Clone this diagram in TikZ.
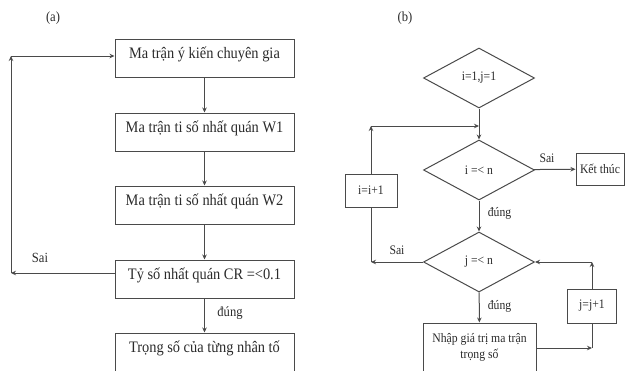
\documentclass[tikz,border=0pt]{standalone}
\usepackage{fontspec}
\setmainfont{Liberation Serif}[FakeStretch=0.9]
\usetikzlibrary{shapes.geometric,arrows.meta}
\definecolor{ln}{HTML}{4A4A4A}
\definecolor{tx}{HTML}{2A2A2A}
\tikzset{
  every node/.style={text=tx},
  arr/.style={draw=ln,line width=1pt,-{Stealth[length=5pt,width=4.5pt]}},
  ln/.style={draw=ln,line width=1pt},
  lbox/.style={draw=ln,line width=1pt,rectangle,minimum width=179pt,minimum height=38pt,inner sep=0pt,text depth=10pt,font=\fontsize{16}{18}\selectfont},
  rbox/.style={draw=ln,line width=1pt,rectangle,inner sep=0pt,font=\fontsize{13}{15}\selectfont},
  dia/.style={draw=ln,line width=1pt,diamond,minimum width=111pt,minimum height=60pt,inner sep=0pt,font=\fontsize{13}{15}\selectfont},
  lab/.style={font=\fontsize{14}{16}\selectfont,inner sep=0pt},
  rlab/.style={font=\fontsize{13}{15}\selectfont,inner sep=0pt},
}
\begin{document}
\begin{tikzpicture}[x=1pt,y=-1pt]
\useasboundingbox (0,0) rectangle (628,370);
% ---- (a)
\node[lab] (ta) at (53,18) {(a)};
\node[lbox] (b1) at (204.5,58) {Ma trận ý kiến chuyên gia};
\node[lbox] (b2) at (204.5,132) {Ma trận ti số nhất quán W1};
\node[lbox] (b3) at (204.5,205) {Ma trận ti số nhất quán W2};
\node[lbox] (b4) at (204.5,279) {Tỷ số nhất quán CR =<0.1};
\node[lbox] (b5) at (204.5,352) {Trọng số của từng nhân tố};
\draw[arr] (b1) -- (b2);
\draw[arr] (b2) -- (b3);
\draw[arr] (b3) -- (b4);
\draw[arr] (b4) -- (b5);
\coordinate (cl1) at (11,273);
\coordinate (cl2) at (11,56);
\draw[arr] (b4.west |- cl1) -- (cl1);
\draw[arr] (cl1) -- (cl2);
\draw[arr] (cl2) -- (b1.west |- cl2);
\node[lab] (sa) at (40,258) {Sai};
\node[lab] (da) at (230,313) {đúng};
% ---- (b)
\node[lab] (tb) at (405,18) {(b)};
\node[dia] (d1) at (479,78) {i=1,j=1};
\node[dia] (d2) at (479,170) {i =< n};
\node[dia] (d3) at (479,262) {j =< n};
\node[rbox,minimum width=52pt,minimum height=33pt] (bi) at (371,190.5) {i=i+1};
\node[rbox,minimum width=48pt,minimum height=32pt] (bk) at (600,169) {Kết thúc};
\node[rbox,minimum width=49pt,minimum height=34pt] (bj) at (592,306) {j=j+1};
\node[rbox,minimum width=113pt,minimum height=49pt,align=center] (bn) at (479.5,347.5) {Nhập giá trị ma trận\\[1pt]trọng số};
\draw[arr] (d1) -- (d2);
\coordinate (cr1) at (371,126);
\coordinate (cr2) at (479,126);
\draw[arr] (bi) -- (cr1);
\draw[arr] (cr1) -- (cr2);
\draw[arr] (d2) -- (bk);
\draw[arr] (d2) -- (d3);
\coordinate (cr3) at (371,262);
\draw[ln] (bi) -- (cr3);
\draw[arr] (d3) -- (cr3);
\draw[arr] (d3) -- (bn);
\coordinate (cr4) at (592,348);
\draw[arr] (bn.east |- cr4) -- (cr4);
\draw[ln] (bj) -- (cr4);
\coordinate (cr5) at (592,262);
\draw[arr] (bj) -- (cr5);
\draw[arr] (cr5) -- (d3);
\node[rlab] (s1) at (547,158) {Sai};
\node[rlab] (s2) at (397,250) {Sai};
\node[rlab] (e1) at (499.5,213) {đúng};
\node[rlab] (e2) at (499.5,306) {đúng};
\end{tikzpicture}
\end{document}
